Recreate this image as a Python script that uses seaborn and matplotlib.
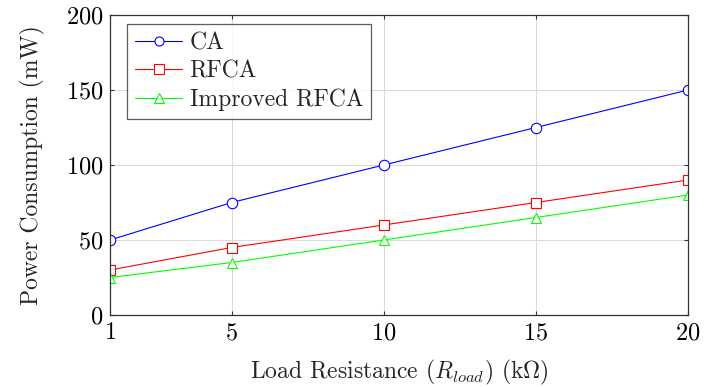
import matplotlib
matplotlib.use("Agg")
import matplotlib.pyplot as plt
import seaborn as sns
import pandas as pd

x_vals = [1, 5, 10, 15, 20]
ca = [50, 75, 100, 125, 150]
rfca = [30, 45, 60, 75, 90]
improved = [25, 35, 50, 65, 80]
series_names = ["CA", "RFCA", "Improved RFCA"]

sns.set_theme(style="white")
plt.rcParams['font.family'] = 'serif'
plt.rcParams['font.serif'] = ['cmr10', 'DejaVu Serif']
plt.rcParams['mathtext.fontset'] = 'cm'
plt.rcParams['axes.formatter.use_mathtext'] = True

df = pd.DataFrame({
    "x": x_vals * 3,
    "y": ca + rfca + improved,
    "series": [series_names[0]] * 5 + [series_names[1]] * 5 + [series_names[2]] * 5,
})

fig = plt.figure(figsize=(7.13, 3.87), dpi=100)
ax = fig.add_axes([110/713, 1 - 315/387, (688-110)/713, (315-15)/387])

palette = {"CA": "#0000ff", "RFCA": "#ff0000", "Improved RFCA": "#00ff00"}
markers = {"CA": "o", "RFCA": "s", "Improved RFCA": "^"}
for name in series_names:
    d = df[df.series == name]
    sns.lineplot(data=d, x="x", y="y", ax=ax, color=palette[name], marker=markers[name],
                 markersize=7.5, markerfacecolor="white", markeredgecolor=palette[name],
                 markeredgewidth=0.8, linewidth=0.8, label=name)

ax.set_xlim(1, 20)
ax.set_ylim(0, 200)
ax.set_xticks(x_vals)
ax.set_yticks([0, 50, 100, 150, 200])
ax.grid(True, color="#d9d9d9", linewidth=0.7)
ax.set_axisbelow(True)
for s in ax.spines.values():
    s.set_color("#333333")
    s.set_linewidth(0.9)
ax.tick_params(direction="in", length=3, width=0.8, top=True, right=True,
               bottom=True, left=True, labelsize=17.5, colors="#333333", labelcolor="black", pad=5)
ax.set_xlabel(r"Load Resistance ($R_{load}$) (k$\Omega$)", fontsize=17, labelpad=10)
ax.set_ylabel("Power Consumption (mW)", fontsize=17, labelpad=15)

leg = ax.legend(loc="upper left", fontsize=17, frameon=True, fancybox=False,
                edgecolor="#333333", handlelength=2.0, handletextpad=0.3, borderpad=0.35,
                labelspacing=0.25, borderaxespad=0.0,
                bbox_to_anchor=(17/578, 0.97))
leg.get_frame().set_linewidth(0.9)
for h, name in zip(leg.get_lines(), series_names):
    h.set_markersize(6.5)
    h.set_markeredgecolor(palette[name])
    h.set_markerfacecolor("white")

fig.savefig("out.png", dpi=100)
